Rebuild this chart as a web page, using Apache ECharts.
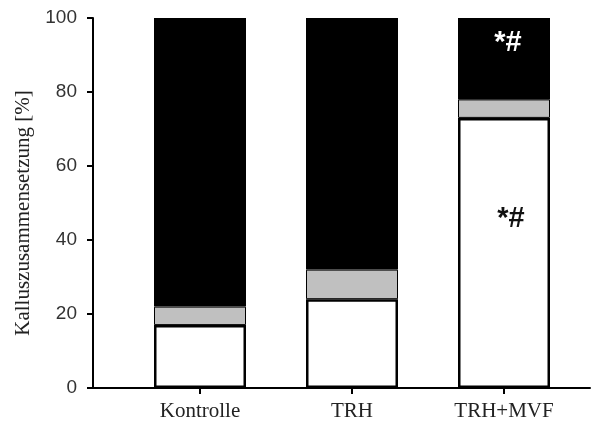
<!DOCTYPE html>
<html>
<head>
<meta charset="utf-8">
<script src="https://cdn.jsdelivr.net/npm/echarts@6/dist/echarts.min.js"></script>
<style>html,body{margin:0;padding:0;background:#fff;}#c{width:603px;height:427px;}</style>
</head>
<body>
<div id="c"></div>
<script>
const categories = ['Kontrolle', 'TRH', 'TRH+MVF'];
const whiteValues = [17, 24, 73];
const grayValues = [5, 8, 5];
const blackValues = [78, 68, 22];
const whiteMarks = ['', '', '*#'];
const blackMarks = ['', '', '*#'];
const yTicks = [0, 20, 40, 60, 80, 100];

const chart = echarts.init(document.getElementById('c'));

function withMarks(values, marks, labelCfg) {
  return values.map((v, i) => marks[i] ? { value: v, label: Object.assign({ show: true, formatter: marks[i] }, labelCfg) } : v);
}

const markFont = { fontFamily: 'Liberation Sans, Arial, sans-serif', fontSize: 29, fontWeight: 'bold' };

chart.setOption({
  animation: false,
  backgroundColor: '#fff',
  grid: [
    { left: 124, right: 23, top: 18, bottom: 39 },
    { left: 93, right: 13, top: 18, bottom: 39 }
  ],
  xAxis: [
    {
      type: 'category', data: categories, gridIndex: 0,
      axisLine: { show: false },
      axisTick: { show: true, alignWithLabel: true, length: 6, lineStyle: { color: '#000', width: 2 } },
      axisLabel: { fontFamily: 'Liberation Serif, Times New Roman, serif', fontSize: 21, color: '#222', margin: 13 }
    },
    {
      type: 'value', gridIndex: 1, min: 0, max: 1,
      axisLine: { show: true, lineStyle: { color: '#000', width: 2 } },
      axisTick: { show: false }, axisLabel: { show: false }, splitLine: { show: false }
    }
  ],
  yAxis: [
    {
      type: 'value', gridIndex: 0, min: yTicks[0], max: yTicks[yTicks.length - 1], interval: yTicks[1] - yTicks[0],
      offset: 31,
      name: 'Kalluszusammensetzung [%]', nameLocation: 'middle', nameGap: 57,
      nameTextStyle: { fontFamily: 'Liberation Serif, Times New Roman, serif', fontSize: 21, color: '#222', padding: [0, 20, 0, 0] },
      axisLine: { show: true, lineStyle: { color: '#000', width: 2 } },
      axisTick: { show: true, length: 6, lineStyle: { color: '#000', width: 2 } },
      axisLabel: { fontFamily: 'Liberation Sans, Arial, sans-serif', fontSize: 19, color: '#333', margin: 16 },
      splitLine: { show: false }
    },
    { type: 'value', gridIndex: 1, show: false, min: 0, max: 1 }
  ],
  series: [
    {
      type: 'bar', stack: 'a', barWidth: 92, xAxisIndex: 0, yAxisIndex: 0,
      data: withMarks(whiteValues, whiteMarks, Object.assign({ position: 'inside', offset: [7, -34], color: '#111' }, markFont)),
      itemStyle: { color: '#fff', borderColor: '#000', borderWidth: 2.5 }
    },
    {
      type: 'bar', stack: 'a', barWidth: 92, xAxisIndex: 0, yAxisIndex: 0,
      data: grayValues,
      itemStyle: { color: '#c0c0c0', borderColor: '#000', borderWidth: 1 }
    },
    {
      type: 'bar', stack: 'a', barWidth: 92, xAxisIndex: 0, yAxisIndex: 0,
      data: withMarks(blackValues, blackMarks, Object.assign({ position: 'insideTop', offset: [4, 5], color: '#fff' }, markFont)),
      itemStyle: { color: '#000' }
    }
  ]
});
</script>
</body>
</html>
